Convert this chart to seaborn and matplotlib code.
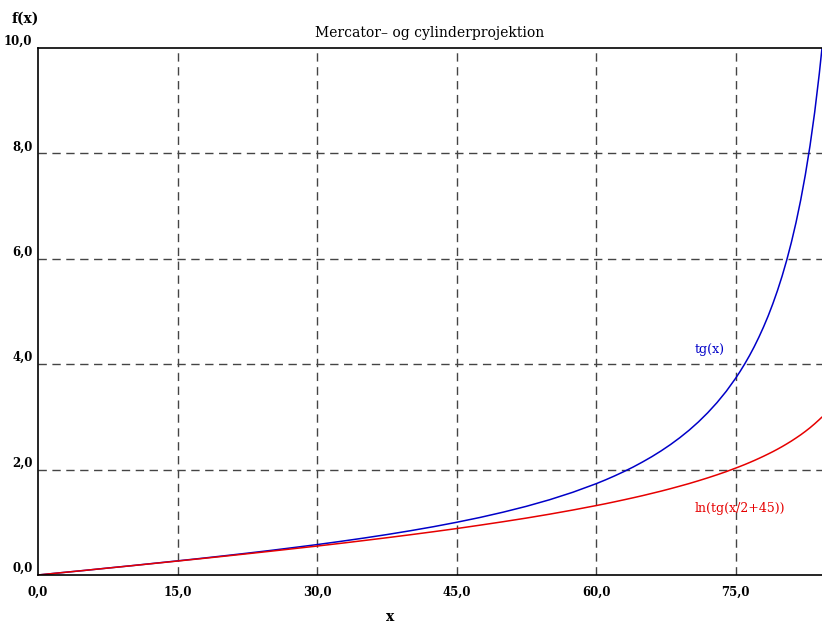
import numpy as np
import pandas as pd
import seaborn as sns
import matplotlib.pyplot as plt
from matplotlib.ticker import FuncFormatter

# angle in degrees
x_deg = [0, 2.5, 5, 7.5, 10, 12.5, 15, 17.5, 20, 22.5, 25, 27.5, 30, 32.5, 35,
         37.5, 40, 42.5, 45, 47.5, 50, 52.5, 55, 57.5, 60,
         61, 62, 63, 64, 65, 66, 67, 68, 69, 70, 71, 72, 73, 74, 75,
         75.5, 76, 76.5, 77, 77.5, 78, 78.5, 79, 79.5, 80, 80.5, 81, 81.5,
         82, 82.5, 83, 83.5, 84, 84.29]
tg_vals = [0, 0.044, 0.087, 0.132, 0.176, 0.222, 0.268, 0.315, 0.364, 0.414,
           0.466, 0.521, 0.577, 0.637, 0.700, 0.767, 0.839, 0.916, 1.0, 1.091,
           1.192, 1.303, 1.428, 1.570, 1.732,
           1.804, 1.881, 1.963, 2.050, 2.145, 2.246, 2.356, 2.475, 2.605,
           2.747, 2.904, 3.078, 3.271, 3.487, 3.732,
           3.867, 4.011, 4.165, 4.331, 4.511, 4.705, 4.915, 5.145, 5.396,
           5.671, 5.976, 6.314, 6.691, 7.115, 7.596, 8.144, 8.777, 9.514,
           10.0]
merc_vals = [0, 0.044, 0.087, 0.131, 0.175, 0.220, 0.265, 0.310, 0.356, 0.403,
             0.451, 0.500, 0.549, 0.600, 0.653, 0.707, 0.763, 0.821, 0.881,
             0.945, 1.011, 1.080, 1.154, 1.233, 1.317,
             1.352, 1.389, 1.427, 1.466, 1.506, 1.549, 1.592, 1.638, 1.686,
             1.735, 1.788, 1.843, 1.901, 1.962, 2.028,
             2.062, 2.097, 2.134, 2.172, 2.212, 2.253, 2.296, 2.340, 2.387,
             2.436, 2.488, 2.542, 2.600, 2.660, 2.725, 2.794, 2.869, 2.949,
             2.998]
x_ticks = [0, 15, 30, 45, 60, 75]
y_ticks = [0, 2, 4, 6, 8, 10]

df = pd.DataFrame({'x': x_deg, 'tg': tg_vals, 'merc': merc_vals})

sns.set_style('white')
plt.rcParams['font.family'] = ['DejaVu Serif']
plt.rcParams['text.color'] = 'black'

fig = plt.figure(figsize=(8.22, 6.23), dpi=100)
ax = fig.add_axes([38 / 822, 48 / 623, 1 - 38 / 822, 527 / 623])

sns.lineplot(data=df, x='x', y='tg', color='#0000c8', lw=1.1, ax=ax)
sns.lineplot(data=df, x='x', y='merc', color='#e60000', lw=1.1, ax=ax)

ax.set_xlim(0, 84.29)
ax.set_ylim(0, 10)
ax.set_xticks(x_ticks)
ax.set_yticks(y_ticks)
fmt = FuncFormatter(lambda v, p: f'{v:.1f}'.replace('.', ','))
ax.xaxis.set_major_formatter(fmt)
ax.yaxis.set_major_formatter(fmt)

for v in x_ticks[1:]:
    ax.axvline(v, color='#444444', lw=1.0, ls=(0, (6, 4)), zorder=0)
for v in y_ticks[1:-1]:
    ax.axhline(v, color='#444444', lw=1.0, ls=(0, (6, 4)), zorder=0)

for s in ['left', 'top', 'bottom']:
    ax.spines[s].set_color('black')
    ax.spines[s].set_linewidth(1.2)
ax.spines['right'].set_visible(False)

ax.tick_params(axis='x', direction='inout', length=9, width=1.2, pad=3,
               labelsize=8.5, colors='black')
ax.tick_params(axis='y', direction='out', length=4, width=1.2, pad=0,
               labelsize=8.5, colors='black')
for lab in ax.get_xticklabels() + ax.get_yticklabels():
    lab.set_fontweight('bold')
for lab in ax.get_yticklabels():
    lab.set_verticalalignment('bottom')

ax.set_xlabel('')
ax.set_ylabel('')
fig.text(430 / 822, 1 - 33 / 623, 'Mercator\u2013 og cylinderprojektion',
         ha='center', va='center', fontsize=10, color='black')
fig.text(12 / 822, 1 - 19 / 623, 'f(x)', ha='left', va='center',
         fontsize=10, fontweight='bold', color='black')
fig.text(390 / 822, 1 - 617 / 623, 'x', ha='center', va='center',
         fontsize=10, fontweight='bold', color='black')

ax.text(72.2, 4.27, 'tg(x)', color='#0000c8', ha='center', va='center',
        fontsize=9)
ax.text(75.5, 1.27, 'ln(tg(x/2+45))', color='#e60000', ha='center',
        va='center', fontsize=9)

fig.savefig('out.png', dpi=100)
